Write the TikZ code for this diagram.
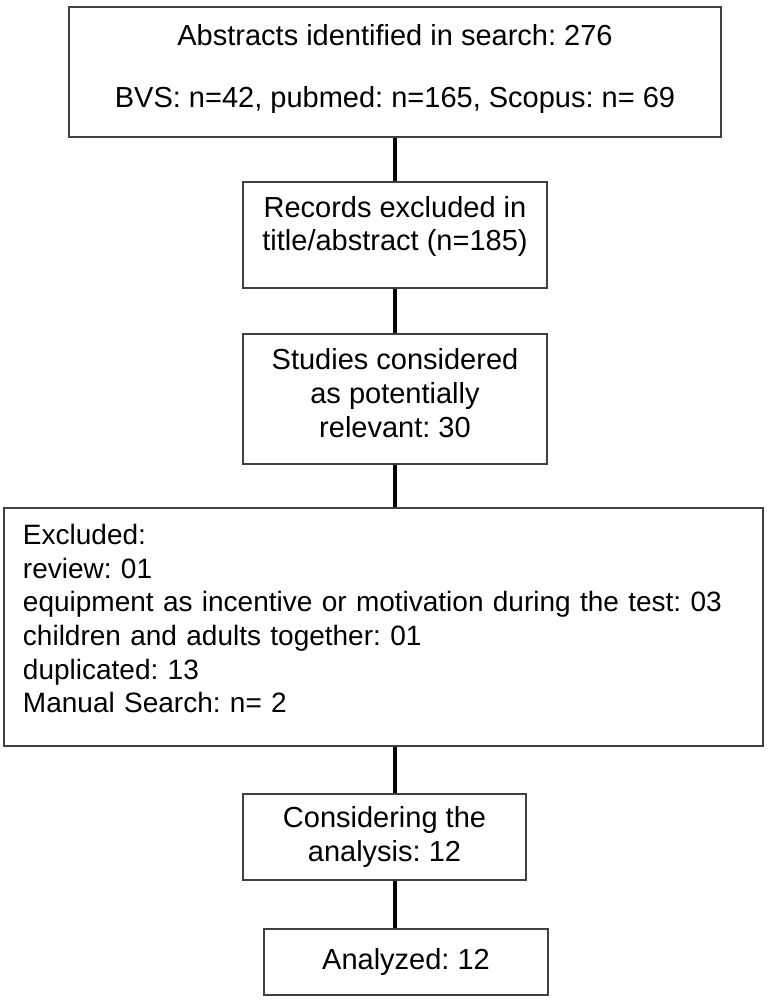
\documentclass[tikz,border=0pt]{standalone}
\usepackage{fontspec}
\setmainfont{Liberation Sans}
\frenchspacing

\tikzset{
    box/.style={draw=black!75, line width=1.5pt, align=center, inner sep=0pt,
        font=\fontsize{29}{33.6}\selectfont},
    link/.style={line width=4pt},
}

\begin{document}
\begin{tikzpicture}[x=1pt,y=-1pt]
    \useasboundingbox (0,0) rectangle (771,1001);

    % Search results
    \node[box, minimum width=652pt, minimum height=130pt, text depth=13pt] (abs) at (395,72)
        {Abstracts identified in search: 276\\[28.4pt]BVS: n=42, pubmed: n=165, Scopus: n= 69};

    % Screening
    \node[box, minimum width=304pt, minimum height=106pt, text depth=23pt] (rec) at (395,235)
        {Records excluded in\\title/abstract (n=185)};
    \node[box, minimum width=304pt, minimum height=130pt, text depth=12pt] (stu) at (395,399)
        {Studies considered\\as potentially\\relevant: 30};

    % Exclusions (wide box)
    \node[box, align=left, text width=721pt, inner xsep=19pt, minimum width=759pt,
        minimum height=238pt, text depth=185pt, font=\fontsize{28}{33.6}\selectfont] (exc) at (383.5,627)
        {Excluded:\\review: 01\\equipment as incentive or motivation during the test: 03\\children and adults together: 01\\duplicated: 13\\Manual Search: n= 2};

    % Final boxes
    \node[box, minimum width=283pt, minimum height=86pt] (con) at (384.5,837)
        {Considering the\\analysis: 12};
    \node[box, minimum width=284pt, minimum height=66pt] (ana) at (406,962) {Analyzed: 12};

    % Connectors, all on one vertical
    \draw[link] (abs) -- (rec);
    \draw[link] (rec) -- (stu);
    \draw[link] (stu.south) -- (stu.south |- exc.north);
    \draw[link] (stu.south |- exc.south) -- (stu.south |- con.north);
    \draw[link] (stu.south |- con.south) -- (stu.south |- ana.north);

\end{tikzpicture}
\end{document}
